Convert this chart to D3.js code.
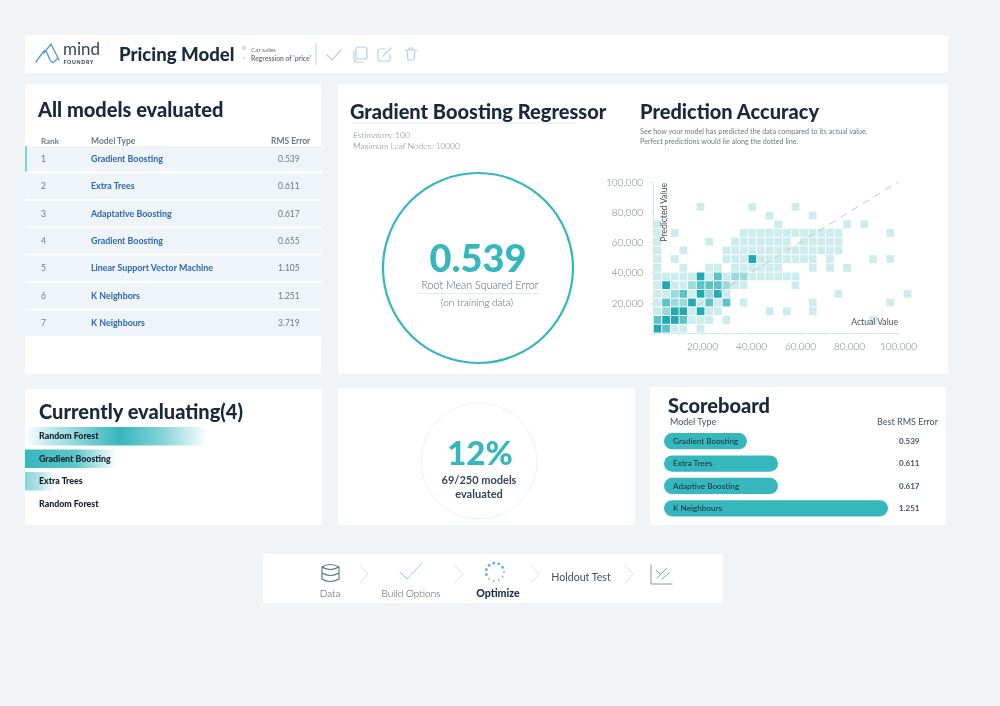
<!DOCTYPE html>
<html>
<head>
<meta charset="utf-8">
<script src="https://cdn.jsdelivr.net/npm/d3@7"></script>
<style>
html, body { margin: 0; padding: 0; background: #f0f4f7; overflow: hidden; }
svg { display: block; filter: blur(0.6px); }
text { font-family: Lato, sans-serif; }
</style>
</head>
<body>
<svg id="chart" width="1000" height="706"></svg>
<script>
// table of evaluated models
var ranks = [1, 2, 3, 4, 5, 6, 7];
var modelTypes = ["Gradient Boosting", "Extra Trees", "Adaptative Boosting", "Gradient Boosting", "Linear Support Vector Machine", "K Neighbors", "K Neighbours"];
var rmsErrors = ["0.539", "0.611", "0.617", "0.655", "1.105", "1.251", "3.719"];

// currently evaluating: progress of each run (share of the bar area)
var evalNames = ["Random Forest", "Gradient Boosting", "Extra Trees", "Random Forest"];
var evalProgress = [0.62, 0.31, 0.10, 0];

// scoreboard
var scoreNames = ["Gradient Boosting", "Extra Trees", "Adaptive Boosting", "K Neighbours"];
var scoreValues = [0.539, 0.611, 0.617, 1.251];

// heatmap of actual vs predicted, one string per predicted bin, bottom row first
// each character is the shade of one actual-value bin
var heatRows = [
  "431101000000000000000000000000",
  "344311101000000000000000010000",
  "124414110000010100100000000000",
  "132241313010000000100000000100",
  "112314241000000000000100000001",
  "141123332110000010000000000000",
  "111114131221111110000000000000",
  "100100110111111000101010000000",
  "101000001114111111101000010100",
  "100100001111111111111100000000",
  "100000100111111101111100000000",
  "101000000011111111111100000100",
  "100000000000001000000010100000",
  "000000000000010000100000000000",
  "000001000001000010000000000000"
];
var heatBinX = 3520;
var heatBinY = 5760;
var xTicks = [10000, 20000, 30000, 40000, 50000, 60000, 70000, 80000, 90000, 100000];
var yTicks = [20000, 40000, 60000, 80000, 100000];
var xLabelled = [20000, 40000, 60000, 80000, 100000];
var diagonal = [18000, 100000];
var shades = ["", "#cdecee", "#98dadd", "#5cc3c8", "#22aab2"];

var navy = "#1a2a3c";
var teal = "#35b7bd";
var grey = "#6f7a82";
var blue = "#2b67b2";
var pale = "#b4d3e6";

var svg = d3.select("#chart");
var defs = svg.append("defs");

function card(x, y, w, h) {
  svg.append("rect").attr("x", x).attr("y", y).attr("width", w).attr("height", h)
    .attr("rx", 2).attr("fill", "#ffffff");
}
function label(x, y, str, size, weight, color, anchor) {
  return svg.append("text").attr("x", x).attr("y", y).text(str)
    .attr("font-size", size).attr("font-weight", weight || 400)
    .attr("fill", color || navy).attr("text-anchor", anchor || "start");
}
function icon(x, y, d, color, width) {
  svg.append("path").attr("transform", "translate(" + x + "," + y + ")").attr("d", d)
    .attr("fill", "none").attr("stroke", color || pale).attr("stroke-width", width || 1.2)
    .attr("stroke-linecap", "round").attr("stroke-linejoin", "round");
}

card(25, 35, 923, 38);
card(25, 84, 296, 290);
card(338, 84, 610, 290);
card(25, 389, 297, 136);
card(338, 388, 297, 137);
card(650, 387, 296, 138);
card(263, 554, 460, 49);

// header
icon(35, 43, "M1 19 L8 9 Q10 6 12 10 L15 17 Q17 21 20 18 L23 15 L16 1 L9 10 M16 1 L24 17", "#5b9ed0", 1.4);
label(63, 54.5, "mind", 17, 400, "#33465a");
label(63.5, 64, "FOUNDRY", 5.2, 900, "#33465a").attr("letter-spacing", 0.7);
label(119, 60.5, "Pricing Model", 18.6, 900);
svg.append("circle").attr("cx", 244).attr("cy", 48).attr("r", 2.4).attr("fill", "#cfe3ee");
svg.append("circle").attr("cx", 244).attr("cy", 58).attr("r", 1.6).attr("fill", "#dfeaf1");
label(251, 51.5, "Car sales", 6.4, 400, grey);
label(251, 60.5, "Regression of 'price'", 6.8, 700, grey);
svg.append("line").attr("x1", 316).attr("x2", 316).attr("y1", 43).attr("y2", 65).attr("stroke", "#c5d6e2");
icon(327, 49, "M0 6 L5 11 L14 1");
icon(354, 47, "M4 0 H10 Q13 0 13 3 V10 Q13 12 10 12 H4 Q2 12 2 10 V2 Q2 0 4 0 M0 4 V12 Q0 15 3 15 H9");
icon(378, 47, "M7 2 H2 Q0 2 0 4 V12 Q0 14 2 14 H10 Q12 14 12 12 V7 M5 9 L13 1");
icon(405, 48, "M0 2 H12 M4 2 V0 H8 V2 M2 2 L3 12 H9 L10 2");

// all models table
label(38, 117, "All models evaluated", 20, 900);
label(41, 144, "Rank", 8, 700, grey);
label(91, 144, "Model Type", 8.5, 700, grey);
label(271, 144, "RMS Error", 8.5, 700, grey);

var rowY = d3.scaleBand().domain(ranks).range([146, 336]).paddingInner(0.07);
ranks.forEach(function(rank, i) {
  var top = rowY(rank);
  var mid = top + rowY.bandwidth() / 2 + 3;
  svg.append("rect").attr("x", 25).attr("y", top).attr("width", 296).attr("height", rowY.bandwidth()).attr("fill", "#eff4f8");
  label(41, mid, rank, 8.5, 400, grey);
  label(91, mid, modelTypes[i], 8.9, 700, blue);
  label(278, mid, rmsErrors[i], 8.5, 400, grey);
});
svg.append("rect").attr("x", 25).attr("y", rowY(1)).attr("width", 2).attr("height", rowY.bandwidth()).attr("fill", "#7fd3d7");

// model detail
label(350, 118.5, "Gradient Boosting Regressor", 20, 900);
svg.append("line").attr("x1", 352).attr("x2", 576).attr("y1", 123).attr("y2", 123).attr("stroke", "#dfeaf1").attr("stroke-width", 1.2);
label(353, 138, "Estimators: 100", 8.4, 300, grey);
label(353, 148.5, "Maximum Leaf Nodes: 10000", 8.4, 300, grey);

svg.append("circle").attr("cx", 478).attr("cy", 268).attr("r", 95).attr("fill", "none").attr("stroke", teal).attr("stroke-width", 2.2);
label(478, 272, "0.539", 38, 900, teal, "middle");
label(480, 289, "Root Mean Squared Error", 10.7, 300, "#56626b", "middle");
svg.append("line").attr("x1", 417).attr("x2", 540).attr("y1", 293.5).attr("y2", 293.5).attr("stroke", "#dfeaf1");
label(477, 306, "(on training data)", 10, 300, "#56626b", "middle");

// prediction accuracy heatmap
label(640, 118.5, "Prediction Accuracy", 20, 900);
label(640, 134, "See how your model has predicted the data compared to its actual value.", 7.2, 400, grey);
label(640, 144, "Perfect predictions would lie along the dotted line.", 7.2, 400, grey);

var x = d3.scaleLinear().domain([0, 100000]).range([653, 898]);
var y = d3.scaleLinear().domain([0, 100000]).range([333, 182]);

heatRows.forEach(function(row, r) {
  row.split("").forEach(function(shade, c) {
    if (shade === "0") { return; }
    svg.append("rect")
      .attr("x", x(c * heatBinX) + 0.6)
      .attr("y", y((r + 1) * heatBinY) + 0.4)
      .attr("width", x(heatBinX) - x(0) - 0.9)
      .attr("height", y(0) - y(heatBinY) - 0.9)
      .attr("fill", shades[+shade]);
  });
});

svg.append("line")
  .attr("x1", x(diagonal[0])).attr("y1", y(diagonal[0]))
  .attr("x2", x(diagonal[1])).attr("y2", y(diagonal[1]))
  .attr("stroke", "#bcc8cc").attr("stroke-width", 1).attr("stroke-dasharray", "7 6");

var xAxis = d3.axisBottom(x).tickValues(xTicks).tickSize(2).tickFormat(function(d) {
  return xLabelled.indexOf(d) >= 0 ? d3.format(",")(d) : "";
});
var yAxis = d3.axisLeft(y).tickValues(yTicks).tickSize(2).tickFormat(d3.format(","));
var gx = svg.append("g").attr("transform", "translate(0,333)").call(xAxis);
var gy = svg.append("g").attr("transform", "translate(653,0)").call(yAxis);
[gx, gy].forEach(function(g) {
  g.selectAll("path, line").attr("stroke", "#d6e6ec");
  g.selectAll("text").attr("fill", grey).attr("font-size", 10).attr("font-weight", 300)
    .attr("font-family", "Lato, sans-serif");
});
gx.selectAll("text").attr("dy", "1.15em");
gy.selectAll("text").attr("dx", "-0.5em");

label(0, 0, "Predicted Value", 8.6, 400, "#46525b", "end").attr("transform", "translate(667,183) rotate(-90)");
label(898, 325, "Actual Value", 8.6, 400, "#46525b", "end");

// currently evaluating
label(39, 419, "Currently evaluating(4)", 20, 900);
var evalY = d3.scaleBand().domain(d3.range(evalNames.length)).range([427, 513]).paddingInner(0.18);
var evalW = d3.scaleLinear().domain([0, 1]).range([0, 295]);
var evalGrads = [
  [["0%", "#ffffff"], ["10%", "#cfeef0"], ["52%", "#35b7bd"], ["75%", "#86d3d7"], ["100%", "#ffffff"]],
  [["0%", "#35b7bd"], ["55%", "#5cc6cb"], ["100%", "#ffffff"]],
  [["0%", "#86d3d7"], ["50%", "#b4e4e6"], ["100%", "#ffffff"]]
];
evalNames.forEach(function(name, i) {
  if (evalProgress[i] > 0) {
    var grad = defs.append("linearGradient").attr("id", "ev" + i);
    evalGrads[i].forEach(function(s) {
      grad.append("stop").attr("offset", s[0]).attr("stop-color", s[1]);
    });
    svg.append("rect").attr("x", 25).attr("y", evalY(i)).attr("width", evalW(evalProgress[i]))
      .attr("height", evalY.bandwidth()).attr("fill", "url(#ev" + i + ")");
  }
  label(39, evalY(i) + evalY.bandwidth() / 2 + 3, name, 8.8, 900, "#14202c");
});

// progress ring
svg.append("circle").attr("cx", 479).attr("cy", 461).attr("r", 58).attr("fill", "none").attr("stroke", "#eef2f5").attr("stroke-width", 1);
label(480, 465, "12%", 33, 900, teal, "middle");
label(479, 484, "69/250 models", 11, 700, "#33465a", "middle");
label(479, 498, "evaluated", 11, 700, "#33465a", "middle");

// scoreboard
label(668, 413, "Scoreboard", 20, 900);
label(670, 425, "Model Type", 9, 400, "#46525b");
label(938, 425, "Best RMS Error", 9, 400, "#46525b", "end");
var scoreY = d3.scaleBand().domain(scoreNames.map(function(d, i) { return i; })).range([433, 516.5]).paddingInner(0.27);
var scoreW = d3.scaleLinear().domain([0.539, 0.611, 0.617, 1.251]).range([83, 114, 114, 224]);
scoreNames.forEach(function(name, i) {
  var mid = scoreY(i) + scoreY.bandwidth() / 2;
  svg.append("rect").attr("x", 664).attr("y", scoreY(i)).attr("width", scoreW(scoreValues[i]))
    .attr("height", scoreY.bandwidth()).attr("rx", scoreY.bandwidth() / 2).attr("fill", teal);
  label(673, mid + 2.8, name, 8.2, 400, "#1c2a36");
  label(899, mid + 2.8, d3.format(".3f")(scoreValues[i]), 8, 700, "#46525b");
});

// workflow steps
icon(322, 564, "M0 3 Q8 -2 17 3 V15 Q8 20 0 15 Z M0 3 Q8 8 17 3 M0 9 Q8 14 17 9", "#5d6f7c", 1.1);
label(330, 596.5, "Data", 10, 300, "#46525b", "middle");
icon(400, 563, "M0 9 L7 16 L22 0", "#86d3d7", 1);
label(411, 596.5, "Build Options", 10, 300, "#46525b", "middle");
d3.range(11).forEach(function(i) {
  var a = i / 11 * 2 * Math.PI;
  svg.append("circle").attr("cx", 495 + 9 * Math.cos(a)).attr("cy", 572 + 9 * Math.sin(a))
    .attr("r", i < 5 ? 0.9 : 1.5).attr("fill", "#6db2de");
});
label(498, 597, "Optimize", 10.6, 900, "#1f3044", "middle");
label(581, 580.5, "Holdout Test", 10.6, 400, "#46525b", "middle");
icon(651, 565, "M0 0 V19 H21 M6 13 L16 3 M5 5 L9 9 M11 14 L18 8", "#8a979f", 1);
[360, 455, 531, 625].forEach(function(cx) {
  icon(cx, 565, "M0 0 L8 9 L0 18", "#d5e6ef", 1);
});
</script>
</body>
</html>
